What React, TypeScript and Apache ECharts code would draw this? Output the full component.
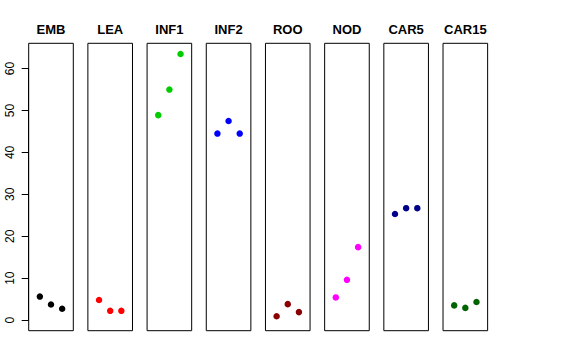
import React, { useEffect, useRef } from "react";
import * as echarts from "echarts";

const categories = ["EMB", "LEA", "INF1", "INF2", "ROO", "NOD", "CAR5", "CAR15"];
const replicates = [1, 2, 3];
const embValues = [5.6, 3.7, 2.7];
const leaValues = [4.8, 2.2, 2.2];
const inf1Values = [48.9, 55.0, 63.5];
const inf2Values = [44.5, 47.5, 44.5];
const rooValues = [0.9, 3.8, 1.9];
const nodValues = [5.4, 9.6, 17.4];
const car5Values = [25.3, 26.7, 26.7];
const car15Values = [3.5, 2.9, 4.3];
const seriesValues = [embValues, leaValues, inf1Values, inf2Values, rooValues, nodValues, car5Values, car15Values];
const colors = ["#000000", "#FF0000", "#00CD00", "#0000FF", "#8B0000", "#FF00FF", "#00008B", "#006400"];
const yTickMin = 0;
const yTickMax = 60;
const yTickStep = 10;

export default function App() {
  const ref = useRef<HTMLDivElement>(null);
  useEffect(() => {
    if (!ref.current) return;
    const chart = echarts.init(ref.current, null, { renderer: "svg" });

    const panelLeft0 = 28.7;
    const pitch = 59.19;
    const panelWidth = 44.6;
    const panelTop = 43.3;
    const panelHeight = 287.4;
    const allVals = seriesValues.flat();
    const dMin = Math.min(0, ...allVals);
    const dMax = Math.max(...allVals);
    const pad = (dMax - dMin) * 0.04;
    const yMin = dMin - pad;
    const yMax = dMax + pad;
    const span = yMax - yMin;

    const grids: any[] = [];
    const xAxes: any[] = [];
    const yAxes: any[] = [];
    const series: any[] = [];
    const graphics: any[] = [];

    categories.forEach((cat, i) => {
      const left = panelLeft0 + i * pitch;
      grids.push({
        left,
        top: panelTop,
        width: panelWidth,
        height: panelHeight,
        show: true,
        borderColor: "#000",
        borderWidth: 1,
        backgroundColor: "transparent",
        containLabel: false,
      });
      xAxes.push({ type: "value", gridIndex: i, min: 0, max: 4, show: false });
      yAxes.push({ type: "value", gridIndex: i, min: yMin, max: yMax, show: false });
      series.push({
        type: "scatter",
        xAxisIndex: i,
        yAxisIndex: i,
        data: seriesValues[i].map((v, j) => [replicates[j], v]),
        symbol: "circle",
        symbolSize: 6.5,
        itemStyle: { color: colors[i], opacity: 1 },
        silent: true,
      });
      graphics.push({
        type: "text",
        x: left + panelWidth / 2,
        y: 29,
        style: {
          text: cat,
          font: 'bold 13px "Liberation Sans", Arial, sans-serif',
          fill: "#000",
          textAlign: "center",
          textVerticalAlign: "middle",
        },
      });
    });

    // axis-only grid for the shared y axis
    const axTop = panelTop + ((yMax - yTickMax) / span) * panelHeight;
    const axHeight = ((yTickMax - yTickMin) / span) * panelHeight;
    const ai = categories.length;
    grids.push({ left: panelLeft0, top: axTop, width: 1, height: axHeight, show: false });
    xAxes.push({ type: "value", gridIndex: ai, min: 0, max: 1, show: false });
    yAxes.push({
      type: "value",
      gridIndex: ai,
      min: yTickMin,
      max: yTickMax,
      interval: yTickStep,
      position: "left",
      axisLine: { show: true, lineStyle: { color: "#000", width: 1 } },
      axisTick: { show: true, length: 7, lineStyle: { color: "#000", width: 1 } },
      axisLabel: {
        show: true,
        rotate: 90,
        margin: 13,
        fontSize: 12,
        color: "#000",
        fontFamily: '"Liberation Sans", Arial, sans-serif',
      },
      splitLine: { show: false },
    });

    chart.setOption({
      animation: false,
      backgroundColor: "#fff",
      grid: grids,
      xAxis: xAxes,
      yAxis: yAxes,
      series,
      graphic: graphics,
    });
    return () => chart.dispose();
  }, []);
  return (
    <div
      ref={ref}
      style={{ position: "fixed", left: 0, top: 0, width: 576, height: 360 }}
    />
  );
}
